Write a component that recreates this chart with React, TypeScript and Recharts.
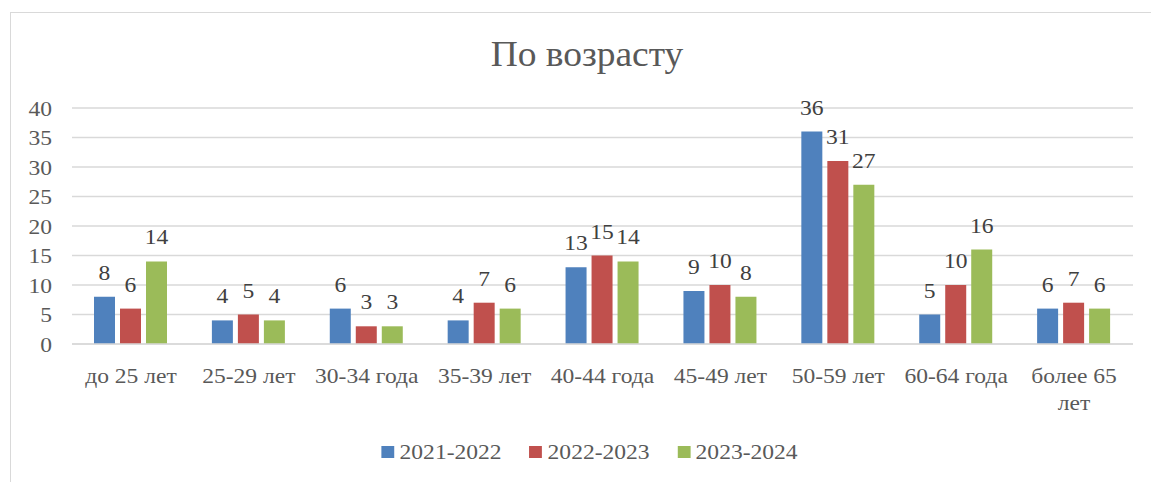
import { BarChart, Bar, XAxis, YAxis, CartesianGrid, Legend, LabelList } from "recharts";

const categories = [
  "до 25 лет",
  "25-29 лет",
  "30-34 года",
  "35-39 лет",
  "40-44 года",
  "45-49 лет",
  "50-59 лет",
  "60-64 года",
  "более 65 лет",
];
const y2021 = [8, 4, 6, 4, 13, 9, 36, 5, 6];
const y2022 = [6, 5, 3, 7, 15, 10, 31, 10, 7];
const y2023 = [14, 4, 3, 6, 14, 8, 27, 16, 6];
const yTicks = [0, 5, 10, 15, 20, 25, 30, 35, 40];

const series = [
  { key: "a", name: "2021-2022", color: "#4F81BD" },
  { key: "b", name: "2022-2023", color: "#C0504D" },
  { key: "c", name: "2023-2024", color: "#9BBB59" },
];

const data = categories.map((name, i) => ({
  name,
  a: y2021[i],
  b: y2022[i],
  c: y2023[i],
}));

const FONT = '"Liberation Serif", "Times New Roman", serif';
const FS = 22;
const SX = 1.07; // в оригинале текст чуть растянут по горизонтали

// перенос подписи по словам, ширина меряется через canvas
let ctx: CanvasRenderingContext2D | null = null;
const wrap = (label: string, maxWidth: number) => {
  if (!ctx) {
    ctx = document.createElement("canvas").getContext("2d");
    if (ctx) ctx.font = `${FS}px "Liberation Serif"`;
  }
  const words = label.split(" ");
  const lines: string[] = [];
  let cur = "";
  words.forEach((w) => {
    const next = cur ? cur + " " + w : w;
    if (cur && ctx && ctx.measureText(next).width > maxWidth) {
      lines.push(cur);
      cur = w;
    } else {
      cur = next;
    }
  });
  if (cur) lines.push(cur);
  return lines;
};

const XTick = (props: any) => {
  const { x, y, payload } = props;
  const lines = wrap(String(payload.value), 105);
  return (
    <g transform={`translate(${x},${y}) scale(${SX},1)`}>
      <text x={0} y={0} textAnchor="middle" fill="#595959" fontSize={FS} fontFamily={FONT}>
        {lines.map((l, i) => (
          <tspan key={i} x={0} dy={i === 0 ? "0.71em" : 27}>
            {l}
          </tspan>
        ))}
      </text>
    </g>
  );
};

const YTick = (props: any) => {
  const { x, y, payload } = props;
  return (
    <g transform={`translate(${x},${y}) scale(${SX},1)`}>
      <text x={0} y={0} dy="0.355em" textAnchor="end" fill="#595959" fontSize={FS} fontFamily={FONT}>
        {payload.value}
      </text>
    </g>
  );
};

const BarLabel = (props: any) => {
  const { x, y, width, value } = props;
  const cx = Number(x) + Number(width) / 2;
  return (
    <g transform={`translate(${cx},${Number(y) - 17}) scale(${SX},1)`}>
      <text x={0} y={0} textAnchor="middle" fill="#404040" fontSize={FS} fontFamily={FONT}>
        {value}
      </text>
    </g>
  );
};

const LegendBox = () => (
  <div style={{ display: "flex", justifyContent: "center", width: 1151 }}>
    <div
      style={{
        display: "flex",
        fontFamily: FONT,
        fontSize: FS,
        lineHeight: "24px",
        color: "#595959",
        transform: `translateX(14px) scaleX(${SX})`,
      }}
    >
      {series.map((s, i) => (
        <div key={s.key} style={{ display: "flex", alignItems: "center", marginLeft: i ? 26 : 0 }}>
          <span style={{ width: 12, height: 12, background: s.color, marginRight: 5, display: "inline-block" }} />
          <span>{s.name}</span>
        </div>
      ))}
    </div>
  </div>
);

const App = () => {
  return (
    <div style={{ position: "absolute", left: 0, top: 0, width: 1151, height: 482, overflow: "hidden", background: "#fff" }}>
      <div
        style={{
          position: "absolute",
          left: 10,
          top: 12,
          width: 1200,
          height: 600,
          border: "1.5px solid #D9D9D9",
        }}
      />
      <div
        style={{
          position: "absolute",
          left: 0,
          top: 37,
          width: 1174,
          textAlign: "center",
          fontFamily: FONT,
          fontSize: 35,
          lineHeight: "35px",
          color: "#595959",
          transform: `scaleX(${SX})`,
        }}
      >
        По возрасту
      </div>
      <div style={{ position: "absolute", left: 0, top: 0 }}>
        <BarChart
          width={1151}
          height={482}
          data={data}
          margin={{ top: 108, right: 18, bottom: 0, left: 0 }}
          barSize={21}
          barGap={5}
        >
          <CartesianGrid vertical={false} stroke="#D9D9D9" strokeWidth={1.5} />
          <XAxis
            dataKey="name"
            tickLine={false}
            axisLine={{ stroke: "#D9D9D9", strokeWidth: 1.5 }}
            tick={<XTick />}
            tickMargin={17}
            interval={0}
            height={114}
          />
          <YAxis
            domain={[0, 40]}
            ticks={yTicks}
            interval={0}
            width={72}
            tickLine={false}
            axisLine={false}
            tickMargin={14}
            tick={<YTick />}
          />
          <Legend
            verticalAlign="bottom"
            content={<LegendBox />}
            wrapperStyle={{ bottom: 18, left: 0, width: 1151 }}
          />
          {series.map((s) => (
            <Bar key={s.key} dataKey={s.key} name={s.name} fill={s.color} isAnimationActive={false}>
              <LabelList dataKey={s.key} content={<BarLabel />} />
            </Bar>
          ))}
        </BarChart>
      </div>
    </div>
  );
};

export default App;
